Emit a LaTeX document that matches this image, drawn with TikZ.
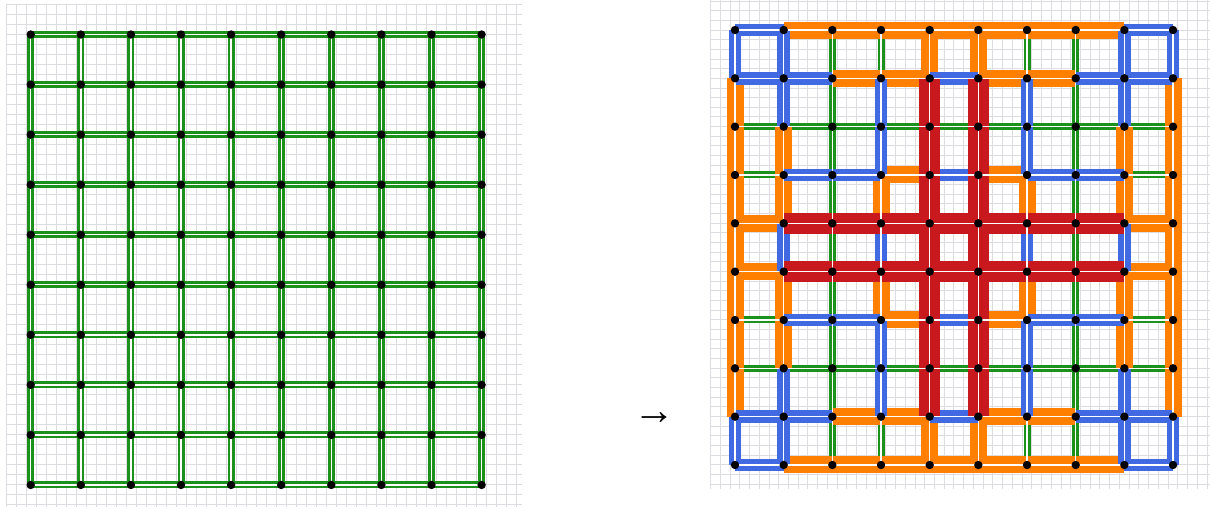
\documentclass[tikz,border=0pt]{standalone}
\usepackage{fontspec}
\newfontfamily\arrowfont{Liberation Sans}
\definecolor{gG}{RGB}{28,145,28}
\definecolor{gB}{RGB}{65,105,225}
\definecolor{gO}{RGB}{255,128,0}
\definecolor{gR}{RGB}{200,25,30}
\definecolor{bggrid}{RGB}{220,220,225}
\tikzset{
  bgline/.style={draw=bggrid, line width=0.5pt},
  stg/.style={draw=gG, line width=3.5pt},
  sto/.style={draw=gO, line width=8.5pt},
  stb/.style={draw=gB, line width=6.25pt},
  str/.style={draw=gR, line width=10.5pt},
  core/.style={draw=white, line width=0.7pt},
  dot/.style={circle, fill=black, inner sep=0pt, minimum size=4.2pt},
}
% colour codes: 0 green, 1 orange, 2 blue, 3 red
\def\Hrows{{2,1,1,1,1,1,1,1,2},{2,2,1,1,2,1,1,2,2},{0,0,0,0,0,0,0,0,0},{0,2,2,1,2,1,2,2,0},{1,3,3,3,3,3,3,3,1},{1,3,3,3,3,3,3,3,1},{0,2,2,1,2,1,2,2,0},{0,0,0,0,0,0,0,0,0},{2,2,1,1,2,1,1,2,2},{2,1,1,1,1,1,1,1,2}}
\def\Vrows{{2,2,0,0,1,1,0,0,2,2},{1,2,0,2,3,3,2,0,2,1},{1,1,0,2,3,3,2,0,1,1},{1,1,0,1,3,3,1,0,1,1},{1,2,0,2,3,3,2,0,2,1},{1,1,0,1,3,3,1,0,1,1},{1,1,0,2,3,3,2,0,1,1},{1,2,0,2,3,3,2,0,2,1},{2,2,0,0,1,1,0,0,2,2}}
\newcommand\rgpass[2]{%
  \foreach \row [count=\j from 0] in \Hrows {%
    \foreach \cl [count=\i from 0] in \row {%
      \pgfmathtruncatemacro\ii{\i+1}%
      \ifnum\cl=#1\relax \draw[#2] (R-\i-\j) -- (R-\ii-\j);\fi
    }}%
  \foreach \row [count=\j from 0] in \Vrows {%
    \foreach \cl [count=\i from 0] in \row {%
      \pgfmathtruncatemacro\jj{\j+1}%
      \ifnum\cl=#1\relax \draw[#2] (R-\i-\j) -- (R-\i-\jj);\fi
    }}%
}
\begin{document}
\begin{tikzpicture}[x=0.5pt,y=-0.5pt]
\useasboundingbox (0,0) rectangle (1210,510);
% background grid, left
\foreach \k in {0,...,51} \draw[bgline] ({6+10*\k},4) -- ({6+10*\k},507);
\foreach \k in {0,...,50} \draw[bgline] (6,{4+10*\k}) -- (522,{4+10*\k});
% background grid, right
\foreach \k in {0,...,51} \draw[bgline] ({715.5+9.733*(\k-0.5)},0) -- ({715.5+9.733*(\k-0.5)},489);
\foreach \k in {0,...,50} \draw[bgline] (711,{1+9.666*\k}) -- (1210,{1+9.666*\k});
% coordinates
\foreach \i in {0,...,9} \foreach \j in {0,...,9} {
  \coordinate (L-\i-\j) at ({30.7+50.1*\i},{34.5+50.05*\j});
  \coordinate (R-\i-\j) at ({735+48.67*\i},{30+48.33*\j});
}
% left grid edges
\foreach \i in {0,...,8} \foreach \j in {0,...,9} {
  \pgfmathtruncatemacro\ii{\i+1}
  \draw[stg] (L-\i-\j) -- (L-\ii-\j);
  \draw[stg] (L-\j-\i) -- (L-\j-\ii);
}
% right grid edges, by colour
\rgpass{0}{stg}
\rgpass{1}{sto}
\rgpass{2}{stb}
\rgpass{3}{str}
% white cores
\foreach \i in {0,...,8} \foreach \j in {0,...,9} {
  \pgfmathtruncatemacro\ii{\i+1}
  \draw[core] (L-\i-\j) -- (L-\ii-\j);
  \draw[core] (L-\j-\i) -- (L-\j-\ii);
  \draw[core] (R-\i-\j) -- (R-\ii-\j);
  \draw[core] (R-\j-\i) -- (R-\j-\ii);
}
% dots
\foreach \i in {0,...,9} \foreach \j in {0,...,9} {
  \node[dot] (LD-\i-\j) at (L-\i-\j) {};
  \node[dot] (RD-\i-\j) at (R-\i-\j) {};
}
% arrow
\node[font=\arrowfont\bfseries\fontsize{21}{21}\selectfont, inner sep=0pt] (arr) at (654,419) {→};
\end{tikzpicture}
\end{document}
